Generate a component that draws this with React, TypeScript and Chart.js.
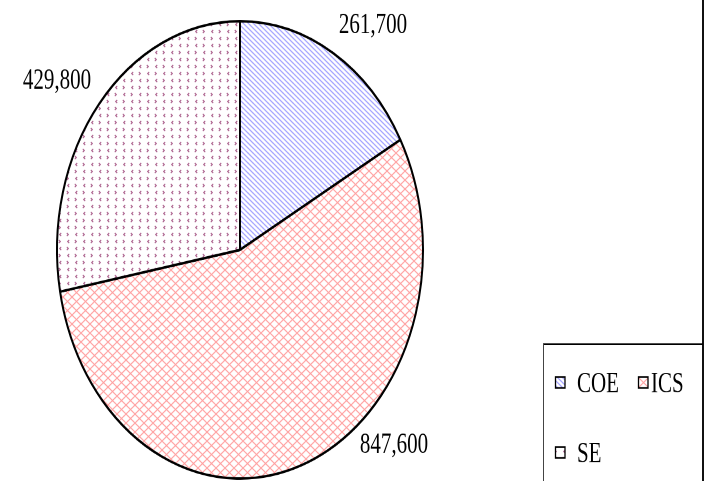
import React, { useEffect, useRef } from 'react';
import { Chart, registerables } from 'chart.js';

Chart.register(...registerables);

// ---- data ----
const categories: string[] = ['COE', 'ICS', 'SE'];
const values: number[] = [261700, 847600, 429800];
const valueLabels: string[] = ['261,700', '847,600', '429,800'];

// ---- layout (CSS pixels; the picture is vertically stretched) ----
const W = 704;
const H_CSS = 481;
const H = 385; // internal drawing height
const SY = H_CSS / H; // vertical stretch
const TEXT_EXTRA_SY = 1.08;
const FONT = '21px "Liberation Serif", "Times New Roman", serif';

// label anchors: [centerX, baselineY] in CSS px, in the order of categories
const labelAnchors: [number, number][] = [
  [373, 33],
  [394, 453],
  [57, 89],
];

function makePattern(
  ctx: CanvasRenderingContext2D,
  w: number,
  h: number,
  draw: (g: CanvasRenderingContext2D) => void
): CanvasPattern {
  const R = 2;
  const c = document.createElement('canvas');
  c.width = w * R;
  c.height = h * R;
  const g = c.getContext('2d')!;
  g.fillStyle = '#ffffff';
  g.fillRect(0, 0, c.width, c.height);
  g.scale(R, R);
  draw(g);
  const p = ctx.createPattern(c, 'repeat')!;
  p.setTransform(new DOMMatrix([1 / R, 0, 0, 1 / (R * SY), 0, 0]));
  return p;
}

function coePattern(ctx: CanvasRenderingContext2D) {
  return makePattern(ctx, 5, 5, (g) => {
    g.strokeStyle = '#a4a4ff';
    g.lineWidth = 1.2;
    g.beginPath();
    for (let k = -1; k <= 1; k++) {
      g.moveTo(k * 5 - 1, -1);
      g.lineTo(k * 5 + 6, 6);
    }
    g.stroke();
  });
}

function icsPattern(ctx: CanvasRenderingContext2D) {
  return makePattern(ctx, 9, 9, (g) => {
    g.strokeStyle = '#ffa0a0';
    g.lineWidth = 1.1;
    g.beginPath();
    g.moveTo(-1, -1);
    g.lineTo(10, 10);
    g.moveTo(10, -1);
    g.lineTo(-1, 10);
    g.stroke();
  });
}

function sePattern(ctx: CanvasRenderingContext2D) {
  return makePattern(ctx, 16, 14, (g) => {
    g.strokeStyle = '#a85a88';
    g.lineWidth = 1.1;
    const lt = (x: number, y: number) => {
      g.moveTo(x + 1.2, y - 1.5);
      g.lineTo(x - 0.3, y);
      g.lineTo(x + 1.2, y + 1.5);
    };
    const gt = (x: number, y: number) => {
      g.moveTo(x - 1.2, y - 1.5);
      g.lineTo(x + 0.3, y);
      g.lineTo(x - 1.2, y + 1.5);
    };
    g.beginPath();
    lt(4, 3.5);
    gt(12, 3.5);
    gt(4, 10.5);
    lt(12, 10.5);
    g.stroke();
  });
}

function drawStretchedText(ctx: CanvasRenderingContext2D, text: string, x: number, yCss: number) {
  ctx.save();
  ctx.translate(x, yCss / SY);
  ctx.scale(1, TEXT_EXTRA_SY);
  ctx.fillText(text, 0, 0);
  ctx.restore();
}

const overlay = {
  id: 'overlay',
  afterDraw(chart: any) {
    const ctx: CanvasRenderingContext2D = chart.ctx;
    const ds = chart.data.datasets[0];
    const labels: string[] = chart.data.labels;
    ctx.save();

    // value labels
    ctx.fillStyle = '#000';
    ctx.font = FONT;
    ctx.textAlign = 'center';
    ctx.textBaseline = 'alphabetic';
    valueLabels.forEach((t, i) => {
      const [x, y] = labelAnchors[i];
      drawStretchedText(ctx, t, x, y);
    });

    // right frame line
    ctx.strokeStyle = '#111';
    ctx.lineWidth = 2;
    ctx.beginPath();
    ctx.moveTo(703, 0);
    ctx.lineTo(703, H);
    ctx.stroke();

    // legend box
    const boxTop = 344 / SY;
    ctx.lineWidth = 1.3;
    ctx.strokeStyle = '#000';
    ctx.beginPath();
    ctx.moveTo(543, boxTop);
    ctx.lineTo(703, boxTop);
    ctx.stroke();
    ctx.strokeStyle = '#444';
    ctx.lineWidth = 1;
    ctx.beginPath();
    ctx.moveTo(543.5, boxTop);
    ctx.lineTo(543.5, H);
    ctx.stroke();

    // legend items
    const items: { icon: number; text: number; row: number }[] = [
      { icon: 555, text: 577, row: 0 },
      { icon: 638, text: 651, row: 0 },
      { icon: 555, text: 577, row: 1 },
    ];
    ctx.textAlign = 'left';
    labels.forEach((lab, i) => {
      const it = items[i];
      const iconTop = (it.row === 0 ? 377 : 447) / SY;
      const iconH = 11 / SY;
      const base = it.row === 0 ? 392 : 462;
      ctx.fillStyle = ds.backgroundColor[i];
      ctx.fillRect(it.icon, iconTop, 10, iconH);
      ctx.strokeStyle = '#000';
      ctx.lineWidth = 1.3;
      ctx.strokeRect(it.icon + 0.5, iconTop, 9.5, iconH);
      ctx.fillStyle = '#000';
      drawStretchedText(ctx, lab, it.text, base);
    });

    ctx.restore();
  },
};

export default function App() {
  const ref = useRef<HTMLCanvasElement>(null);
  useEffect(() => {
    const canvas = ref.current!;
    const ctx = canvas.getContext('2d')!;
    const patterns = [coePattern(ctx), icsPattern(ctx), sePattern(ctx)];
    const chart = new Chart(canvas, {
      type: 'pie',
      data: {
        labels: categories,
        datasets: [
          {
            data: values,
            backgroundColor: patterns as any,
            borderColor: '#000',
            borderWidth: 2,
            radius: 183,
          } as any,
        ],
      },
      options: {
        responsive: false,
        animation: false,
        devicePixelRatio: 2,
        events: [],
        layout: { padding: { left: 57, right: 281, top: 17, bottom: 2 } },
        plugins: {
          legend: { display: false },
          tooltip: { enabled: false },
          title: { display: false },
        },
      } as any,
      plugins: [overlay],
    });
    return () => chart.destroy();
  }, []);
  return (
    <div style={{ position: 'absolute', left: 0, top: 0, width: W, height: H_CSS, background: '#fff' }}>
      <canvas
        ref={ref}
        width={W}
        height={H}
        style={{ width: W + 'px', height: H_CSS + 'px', display: 'block' }}
      />
    </div>
  );
}
